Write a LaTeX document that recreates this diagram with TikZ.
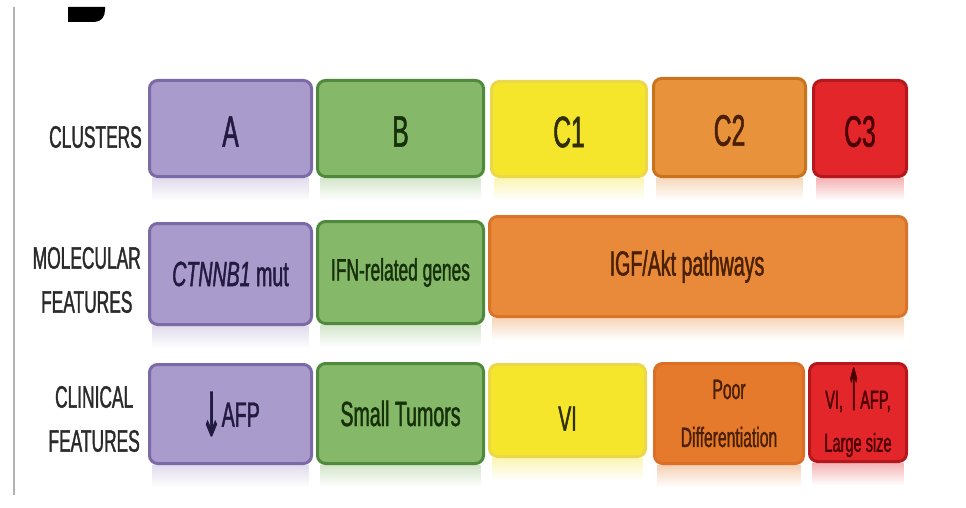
\documentclass[tikz,border=0pt]{standalone}
\usepackage{fontspec}
\usepackage{graphicx}
\setmainfont{Liberation Sans}[FakeStretch=0.56, FakeBold=1.2]
\newfontfamily\arrowfont{DejaVu Sans}[FakeBold=2.5]
\usetikzlibrary{fadings}
\definecolor{purF}{HTML}{A99BCB}\definecolor{purD}{HTML}{7B6AA6}\definecolor{purT}{HTML}{221A40}
\definecolor{grnF}{HTML}{86B86A}\definecolor{grnD}{HTML}{4F8A3C}\definecolor{grnT}{HTML}{16300A}
\definecolor{yelF}{HTML}{F5E62C}\definecolor{yelD}{HTML}{EBD84A}\definecolor{yelT}{HTML}{2E2E00}
\definecolor{orgF}{HTML}{E8923C}\definecolor{orgD}{HTML}{C8741F}\definecolor{orgT}{HTML}{4A2000}
\definecolor{redF}{HTML}{E3262A}\definecolor{redD}{HTML}{B5181C}\definecolor{redT}{HTML}{4A0000}
\definecolor{igfF}{HTML}{E98A3A}\definecolor{igfD}{HTML}{D9742A}
\definecolor{dorF}{HTML}{E57A2C}\definecolor{dorD}{HTML}{DC6E26}
\definecolor{lblT}{HTML}{2A2A2A}
\tikzset{
  box/.style={rounded corners=8pt, line width=3pt, inner sep=0pt, outer sep=0pt, align=center},
  lbl/.style={anchor=east, align=center, text=lblT, font=\fontsize{31}{44}\selectfont, inner sep=0pt},
  big/.style={font=\fontsize{44}{50}\selectfont},
  mid/.style={font=\fontsize{35}{40}\selectfont},
  sml/.style={font=\fontsize{28}{48}\selectfont},
}
\newcommand{\mkbox}[9]{% name, x1, x2, y1, y2, fill, draw, textcolor, style
  \fill[#6, opacity=0.35, path fading=south] (#2+4,#5) rectangle (#3-4,#5+22);
  \node[box, fill=#6, draw=#7, text=#8, #9, minimum width={(#3-#2-3)*1pt}, minimum height={(#5-#4-3)*1pt}] (#1) at ({(#2+#3)/2},{(#4+#5)/2})}
\begin{document}
\begin{tikzpicture}[x=1pt,y=-1pt]
\useasboundingbox (0,0) rectangle (966,508);
\fill[white] (0,0) rectangle (966,508);
% frame line and partial panel letter
\draw[line width=2pt, black!30] (14,7) -- (14,495);
\fill[black] (68,7) -- (68,22) -- (94,22) .. controls (101,22) and (105,17) .. (105,10) -- (105,7) -- cycle;
% row labels
\node[lbl] (lclu) at (142,137) {CLUSTERS};
\node[lbl] (lmol) at (141,280) {MOLECULAR\\FEATURES};
\node[lbl] (lcli) at (140,419) {CLINICAL\\FEATURES};
% row 1
\mkbox{cA}{148}{313}{79}{178}{purF}{purD}{purT}{big} {\raisebox{-3pt}[\height][\depth]{A}};
\mkbox{cB}{316}{485}{79}{178}{grnF}{grnD}{grnT}{big} {\raisebox{-3pt}[\height][\depth]{B}};
\mkbox{cC1}{490}{648}{80}{178}{yelF}{yelD}{yelT}{big} {\raisebox{-3pt}[\height][\depth]{C1}};
\mkbox{cC2}{652}{807}{77}{178}{orgF}{orgD}{orgT}{big} {\raisebox{-3pt}[\height][\depth]{C2}};
\mkbox{cC3}{812}{908}{79}{178}{redF}{redD}{redT}{big} {\raisebox{-3pt}[\height][\depth]{C3}};
% row 2
\mkbox{mA}{148}{313}{222}{326}{purF}{purD}{purT}{mid} {\itshape CTNNB1\upshape{} mut};
\mkbox{mB}{316}{485}{220}{325}{grnF}{grnD}{grnT}{font=\fontsize{31}{36}\selectfont} {IFN-related genes};
\mkbox{mC}{488}{908}{215}{318}{igfF}{igfD}{orgT}{mid} {\hspace*{-22pt}IGF/Akt pathways};
% row 3
\mkbox{kA}{148}{313}{363}{465}{purF}{purD}{purT}{mid} {\raisebox{-9pt}{\arrowfont\scalebox{0.7}[1.7]{↓}}AFP};
\mkbox{kB}{316}{485}{362}{465}{grnF}{grnD}{grnT}{mid} {Small Tumors};
\mkbox{kC1}{488}{647}{363}{458}{yelF}{yelD}{yelT}{mid} {\raisebox{-8pt}[\height][\depth]{VI}};
\mkbox{kC2}{653}{805}{362}{465}{dorF}{dorD}{orgT}{sml} {Poor\\Differentiation};
\mkbox{kC3}{808}{908}{362}{463}{redF}{redD}{redT}{font=\fontsize{26}{43}\selectfont} {VI, \raisebox{-1pt}{\arrowfont\scalebox{0.6}[2.2]{↑}}AFP,\\Large size};
\end{tikzpicture}
\end{document}
